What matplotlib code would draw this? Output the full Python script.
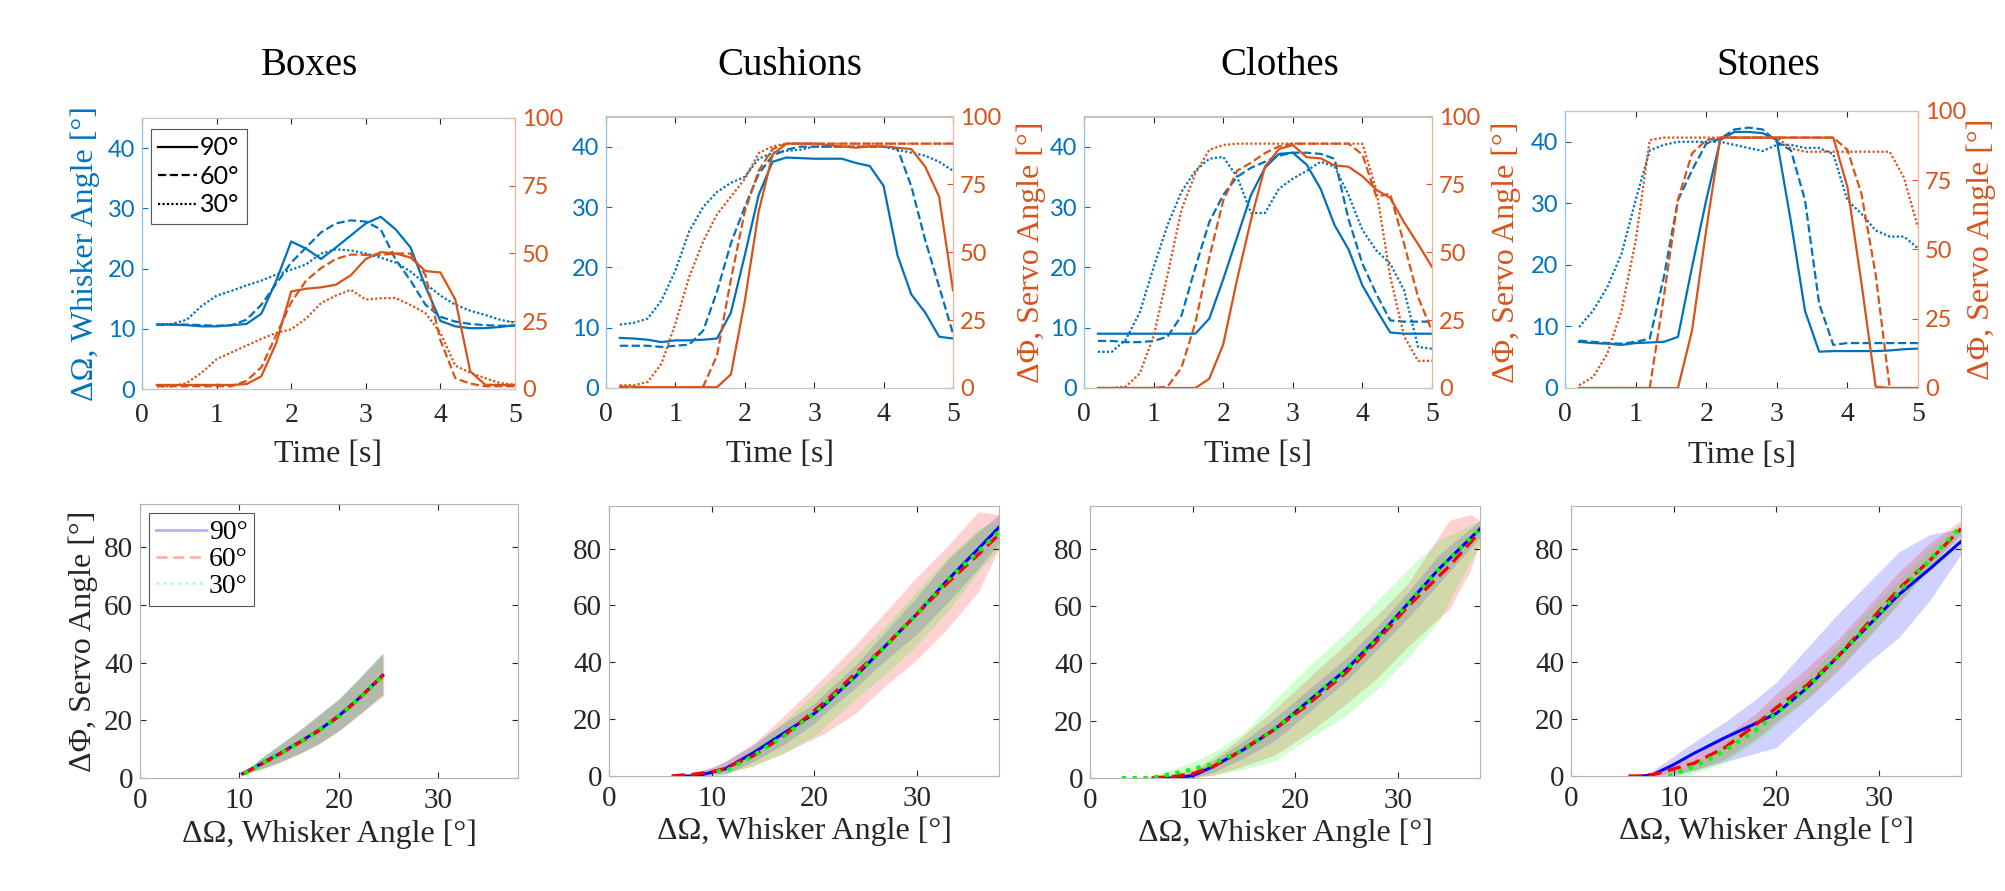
import matplotlib
matplotlib.use('Agg')
import matplotlib.pyplot as plt
from matplotlib.lines import Line2D

plt.rcParams['font.family'] = ['Liberation Serif', 'DejaVu Serif']

# ---- data: whisker / servo angle vs time (top row) ----
time_s = [0.2, 0.4, 0.6, 0.8, 1.0, 1.2, 1.4, 1.6, 1.8, 2.0, 2.2, 2.4, 2.6,
          2.8, 3.0, 3.2, 3.4, 3.6, 3.8, 4.0, 4.2, 4.4, 4.6, 4.8, 5.0]

boxes_w90 = [10.7, 10.7, 10.6, 10.4, 10.4, 10.6, 10.8, 12.5, 18.0, 24.5, 23.3, 21.6, 23.5,
             25.5, 27.5, 28.6, 26.5, 23.5, 17.0, 11.3, 10.4, 10.1, 10.1, 10.3, 10.6]
boxes_w60 = [10.7, 10.7, 10.7, 10.6, 10.5, 10.6, 11.5, 14.0, 17.5, 21.0, 23.5, 26.0, 27.5,
             28.0, 27.8, 26.5, 21.5, 18.0, 14.0, 12.0, 11.2, 10.8, 10.6, 10.5, 10.5]
boxes_w30 = [10.7, 10.8, 11.5, 13.8, 15.5, 16.3, 17.2, 18.0, 19.0, 19.8, 20.7, 22.5, 23.2,
             23.0, 22.5, 21.8, 21.0, 19.5, 17.5, 15.5, 14.0, 13.0, 12.3, 11.5, 11.0]
boxes_s90 = [1.5, 1.5, 1.5, 1.5, 1.5, 1.5, 1.8, 4.7, 17.0, 36.0, 37.0, 37.5, 38.5,
             42.0, 48.0, 50.5, 50.0, 48.5, 43.5, 43.0, 33.0, 6.5, 1.6, 1.5, 1.5]
boxes_s60 = [1.0, 1.0, 1.0, 1.0, 1.0, 1.0, 3.0, 8.0, 20.0, 32.0, 40.0, 44.6, 48.0,
             49.6, 49.5, 49.5, 50.0, 50.0, 42.0, 18.0, 4.0, 2.0, 1.0, 1.0, 1.0]
boxes_s30 = [1.0, 1.0, 2.2, 6.0, 11.0, 13.5, 16.0, 18.5, 20.7, 22.0, 26.0, 31.7, 34.5,
             36.6, 33.0, 33.5, 33.6, 31.0, 28.0, 20.7, 8.6, 6.0, 4.0, 2.2, 1.6]

cush_w90 = [8.3, 8.2, 8.0, 7.6, 7.9, 7.9, 8.0, 8.2, 12.5, 22.0, 32.0, 37.5, 38.2,
            38.1, 38.0, 38.0, 38.0, 37.3, 36.8, 33.5, 22.0, 15.5, 12.5, 8.5, 8.2]
cush_w60 = [7.0, 7.0, 7.0, 6.8, 7.0, 7.2, 9.5, 16.0, 24.0, 30.0, 35.5, 38.5, 39.5,
            40.0, 40.0, 40.0, 40.0, 40.0, 40.0, 40.0, 39.7, 33.4, 24.5, 16.8, 9.0]
cush_w30 = [10.5, 10.8, 11.5, 14.5, 19.5, 26.0, 30.0, 32.5, 34.0, 35.0, 38.0, 39.0, 39.3,
            39.5, 40.0, 40.0, 40.0, 40.0, 40.0, 40.0, 39.5, 39.0, 38.5, 37.5, 36.0]
cush_s90 = [0.5, 0.5, 0.3, 0.3, 0.3, 0.3, 0.3, 0.3, 5.0, 32.0, 65.0, 86.0, 90.0,
            90.0, 90.0, 89.5, 89.0, 88.5, 89.0, 89.0, 88.5, 88.0, 81.5, 70.5, 36.0]
cush_s60 = [0.0, 0.0, 0.0, 0.0, 0.0, 0.0, 0.5, 12.0, 40.0, 65.0, 80.0, 88.0, 90.0,
            90.0, 90.0, 90.0, 90.0, 90.0, 90.0, 90.0, 90.0, 90.0, 90.0, 90.0, 90.0]
cush_s30 = [1.0, 1.0, 2.2, 9.0, 23.7, 41.0, 54.0, 64.0, 70.5, 77.0, 86.5, 89.0, 90.0,
            90.0, 90.0, 90.0, 90.0, 90.0, 90.0, 90.0, 90.0, 90.0, 90.0, 90.0, 90.0]

clo_w90 = [9.0, 9.0, 9.0, 9.0, 9.0, 9.0, 9.0, 9.0, 11.5, 18.0, 25.0, 32.0, 36.5,
           38.8, 39.0, 37.0, 33.0, 27.0, 23.0, 17.0, 13.0, 9.2, 9.0, 9.0, 9.0]
clo_w60 = [7.8, 7.8, 7.6, 7.6, 7.8, 8.5, 12.0, 20.0, 27.5, 32.0, 35.0, 36.5, 37.5,
           38.5, 39.0, 39.0, 38.8, 38.0, 28.0, 20.6, 15.6, 11.2, 11.0, 11.0, 11.0]
clo_w30 = [6.0, 6.0, 8.0, 12.5, 20.0, 27.0, 32.5, 36.0, 38.0, 38.3, 35.0, 29.0, 29.0,
           33.0, 34.7, 36.0, 37.5, 36.7, 32.0, 26.2, 22.8, 20.6, 16.2, 6.8, 6.5]
clo_s90 = [0.0, 0.0, 0.0, 0.0, 0.0, 0.0, 0.0, 0.0, 3.4, 16.0, 40.0, 62.0, 81.5,
           88.0, 89.5, 85.0, 84.6, 82.0, 81.5, 78.0, 73.0, 70.0, 61.0, 53.0, 44.6]
clo_s60 = [0.0, 0.0, 0.0, 0.0, 0.0, 0.5, 7.5, 24.0, 48.0, 69.0, 80.0, 83.0, 86.5,
           89.0, 90.0, 90.0, 90.0, 90.0, 90.0, 86.0, 70.5, 71.5, 53.0, 33.5, 21.0]
clo_s30 = [0.0, 0.0, 0.5, 5.3, 19.0, 41.6, 65.6, 79.0, 87.7, 89.5, 90.0, 90.0, 90.0,
           90.0, 90.0, 90.0, 90.0, 90.0, 90.0, 90.0, 73.0, 41.0, 19.0, 10.0, 10.0]

sto_w90 = [7.5, 7.3, 7.2, 7.0, 7.3, 7.4, 7.5, 8.3, 19.7, 30.5, 40.3, 41.6, 41.6,
           41.4, 40.3, 27.0, 12.5, 5.9, 6.0, 6.0, 6.0, 6.0, 6.1, 6.3, 6.4]
sto_w60 = [7.7, 7.5, 7.3, 7.2, 7.5, 8.0, 18.0, 30.5, 35.4, 39.7, 40.5, 42.0, 42.3,
           42.0, 40.0, 38.6, 30.5, 13.7, 7.0, 7.3, 7.3, 7.3, 7.3, 7.3, 7.3]
sto_w30 = [9.9, 12.6, 16.4, 21.8, 30.5, 38.6, 39.5, 40.0, 40.0, 40.0, 40.0, 39.5, 39.0,
           38.5, 39.5, 39.5, 39.0, 39.0, 38.0, 30.5, 28.3, 25.6, 24.6, 24.6, 22.7]
sto_s90 = [0.0, 0.0, 0.0, 0.0, 0.0, 0.0, 0.0, 0.0, 20.8, 57.0, 90.4, 90.4, 90.4,
           90.4, 90.4, 90.4, 90.4, 90.4, 90.4, 72.6, 37.7, 0.5, 0.0, 0.0, 0.0]
sto_s60 = [0.0, 0.0, 0.0, 0.0, 0.0, 0.0, 33.0, 68.0, 84.7, 89.5, 90.4, 90.4, 90.4,
           90.4, 90.4, 90.4, 90.4, 90.4, 90.4, 86.0, 70.0, 41.0, 0.0, 0.0, 0.0]
sto_s30 = [1.0, 4.0, 12.4, 28.0, 53.0, 89.5, 90.4, 90.4, 90.4, 90.4, 90.4, 90.4, 90.4,
           90.4, 90.4, 86.5, 85.3, 85.3, 85.3, 85.3, 85.3, 85.3, 85.3, 76.0, 58.0]

# ---- data: servo angle vs whisker angle, mean and band (bottom row) ----
boxes_om90 = [10.3, 12, 14, 16, 18, 20, 22, 24.4]
boxes_phi90 = [1.5, 4.6, 8.4, 12.4, 16.6, 21.6, 27.6, 35.6]
boxes_lo90 = [1.5, 3.0, 5.5, 8.5, 12.0, 16.5, 22.0, 29.0]
boxes_hi90 = [1.5, 6.5, 11.5, 16.5, 22.0, 27.5, 34.5, 43.5]
boxes_om60 = [10.3, 12, 14, 16, 18, 20, 22, 24.5]
boxes_phi60 = [1.3, 4.4, 8.2, 12.2, 16.4, 21.4, 27.4, 35.8]
boxes_lo60 = [1.3, 2.8, 5.3, 8.3, 11.8, 16.3, 21.8, 28.5]
boxes_hi60 = [1.3, 6.3, 11.3, 16.3, 21.8, 27.3, 34.3, 43.0]
boxes_om30 = [10.5, 12, 14, 16, 18, 20, 22, 24.4]
boxes_phi30 = [1.5, 4.5, 8.3, 12.3, 16.5, 21.5, 27.5, 35.4]
boxes_lo30 = [1.5, 2.9, 5.4, 8.4, 11.9, 16.4, 21.9, 28.8]
boxes_hi30 = [1.5, 6.4, 11.4, 16.4, 21.9, 27.4, 34.4, 43.2]

cush_om90 = [7.5, 8.5, 10, 11.3, 14, 17, 20, 21, 24, 27, 30, 33, 36, 38]
cush_phi90 = [0, 0, 1.3, 2.5, 8, 15, 22, 25, 35, 46, 57, 69, 80, 87.5]
cush_lo90 = [0, 0, 0, 0.5, 5, 11, 18.5, 22, 31, 41, 50, 61, 73, 82]
cush_hi90 = [0, 1, 3, 5, 11, 18.5, 25.5, 29, 39, 51, 63, 76, 86, 92]
cush_om60 = [6.1, 7, 8, 9, 10, 11, 14, 17, 21, 24, 27, 30, 33, 36, 38]
cush_phi60 = [0, 0.3, 0.5, 1, 1.5, 2.3, 7, 14, 26, 36, 46, 57, 68, 78, 85]
cush_lo60 = [0, 0, 0, 0, 0.5, 1, 3.5, 8, 15, 22, 32, 41, 52, 65, 80]
cush_hi60 = [0, 0.5, 1, 2, 3, 4.5, 11, 21, 35, 46, 58, 70, 81, 93, 92]
cush_om30 = [10.5, 11.5, 14, 17, 20, 24, 27, 30, 33, 36, 38]
cush_phi30 = [1.5, 2, 7, 14, 22, 35, 46, 57, 69, 79, 86]
cush_lo30 = [1.5, 1, 3.5, 8, 14, 27, 36, 46, 58, 72, 80]
cush_hi30 = [1.5, 3, 10, 19, 29, 42, 53, 65, 77, 87, 90]

clo_om90 = [7, 8, 10, 12, 15, 18, 21, 25, 28, 31, 34, 38]
clo_phi90 = [0, 0, 0.8, 4, 10, 17, 26, 38, 49, 61, 73, 87]
clo_lo90 = [0, 0, 0, 2, 7, 13, 22, 34, 45, 56, 68, 84]
clo_hi90 = [0, 0.5, 2, 6, 13, 21, 30, 42, 53, 65, 78, 90]
clo_om60 = [6, 8, 10, 12, 14, 18, 21, 25, 28, 31, 35, 37, 38]
clo_phi60 = [0, 0.5, 1.5, 4, 8, 17, 25, 37, 48, 60, 74, 82, 86]
clo_lo60 = [0, 0, 0, 1, 3, 8, 15, 26, 35, 46, 59, 72, 82]
clo_hi60 = [0, 1, 3, 7, 12, 24, 34, 47, 57, 68, 90, 92, 90]
clo_om30 = [3.1, 6, 8, 10, 12, 15, 18, 21, 25, 28, 31, 34, 38]
clo_phi30 = [0, 0, 1.5, 3, 5, 10, 17, 26, 38, 49, 61, 73, 87]
clo_lo30 = [0, 0, 0, 0.5, 1, 3, 6, 13, 22, 31, 42, 55, 82]
clo_hi30 = [0, 0.5, 3, 5.5, 9, 16, 27, 38, 51, 62, 73, 83, 90]

sto_om90 = [7, 8, 10, 12, 15, 18, 20, 23, 26, 29, 32, 35, 38]
sto_phi90 = [0, 0.5, 4, 8, 13.5, 18.5, 22, 31, 42, 53, 64, 73, 82.5]
sto_lo90 = [0, 0, 0, 2, 5, 8, 10, 20, 30, 40, 49, 62, 78]
sto_hi90 = [0, 2, 7, 12, 19, 27, 33, 45, 57, 68, 79, 85, 87]
sto_om60 = [5.6, 6.5, 8, 9, 10, 12, 15, 18, 20, 23, 26, 29, 32, 35, 38]
sto_phi60 = [0, 0, 0.5, 1.5, 2.5, 4.5, 10, 18, 24, 32, 42, 54, 66, 76, 87]
sto_lo60 = [0, 0, 0, 0.5, 1, 2, 6, 13, 19, 27, 37, 49, 61, 74, 85]
sto_hi60 = [0, 0.5, 1, 2.5, 4, 7, 14, 22, 29, 38, 48, 60, 72, 82, 90]
sto_om30 = [9.5, 11, 13, 15, 18, 20, 23, 26, 29, 32, 35, 38]
sto_phi30 = [0, 2, 5, 9, 16, 22, 31, 42, 53, 65, 76, 88]
sto_lo30 = [0, 0, 2, 5, 12, 18, 27, 38, 49, 61, 73, 86]
sto_hi30 = [0, 3, 7, 12, 20, 26, 35, 46, 58, 69, 80, 89]

materials = ['Boxes', 'Cushions', 'Clothes', 'Stones']
angle_labels = ['90°', '60°', '30°']

BLUE = '#0072BD'
ORANGE = '#D95319'
DARK = '#262626'
SANS = 'Lato'

W, H = 2005, 891


def rect(x0, x1, ytop, ybot):
    return [x0 / W, 1 - ybot / H, (x1 - x0) / W, (ybot - ytop) / H]


fig = plt.figure(figsize=(20.05, 8.91), dpi=100)

top_rects = [rect(142, 515, 118, 389), rect(606, 953, 116.5, 388),
             rect(1084, 1432, 116.5, 388), rect(1565, 1918, 111, 388)]
bot_rects = [rect(140, 518, 504, 778), rect(609, 999, 506, 776),
             rect(1090, 1480, 506, 778), rect(1571, 1961, 506, 776)]
title_x = [309, 790, 1280, 1768]
right_label_x = [None, 1.184, 1.170, 1.138]

whisker = [(boxes_w90, boxes_w60, boxes_w30), (cush_w90, cush_w60, cush_w30),
           (clo_w90, clo_w60, clo_w30), (sto_w90, sto_w60, sto_w30)]
servo = [(boxes_s90, boxes_s60, boxes_s30), (cush_s90, cush_s60, cush_s30),
         (clo_s90, clo_s60, clo_s30), (sto_s90, sto_s60, sto_s30)]
curves = [
    [(boxes_om90, boxes_phi90, boxes_lo90, boxes_hi90),
     (boxes_om60, boxes_phi60, boxes_lo60, boxes_hi60),
     (boxes_om30, boxes_phi30, boxes_lo30, boxes_hi30)],
    [(cush_om90, cush_phi90, cush_lo90, cush_hi90),
     (cush_om60, cush_phi60, cush_lo60, cush_hi60),
     (cush_om30, cush_phi30, cush_lo30, cush_hi30)],
    [(clo_om90, clo_phi90, clo_lo90, clo_hi90),
     (clo_om60, clo_phi60, clo_lo60, clo_hi60),
     (clo_om30, clo_phi30, clo_lo30, clo_hi30)],
    [(sto_om90, sto_phi90, sto_lo90, sto_hi90),
     (sto_om60, sto_phi60, sto_lo60, sto_hi60),
     (sto_om30, sto_phi30, sto_lo30, sto_hi30)],
]

top_styles = ['-', '--', (0, (1, 1))]
bot_colors = [(0, 0, 1), (1, 0, 0), (0, 1, 0)]
bot_styles = [dict(ls='-', lw=2.2), dict(ls=(0, (4, 2)), lw=2.4), dict(ls=(0, (1, 1.6)), lw=3)]

for i, name in enumerate(materials):
    fig.text(title_x[i] / W, 1 - 75 / H, name, fontsize=28, ha='center', va='baseline')

    # top row: time series with two y axes
    ax = fig.add_axes(top_rects[i])
    ax2 = ax.twinx()
    for k in range(3):
        ax.plot(time_s, whisker[i][k], color=BLUE, ls=top_styles[k], lw=1.6)
        ax2.plot(time_s, servo[i][k], color=ORANGE, ls=top_styles[k], lw=1.6)
    ax.set_xlim(0, 5)
    ax.set_ylim(0, 45)
    ax2.set_ylim(0, 100)
    ax.set_xticks([0, 1, 2, 3, 4, 5])
    ax.set_yticks([0, 10, 20, 30, 40])
    ax2.set_yticks([0, 25, 50, 75, 100])
    ax.tick_params(axis='x', direction='in', top=True, length=4, labelsize=20,
                   pad=10, colors=DARK)
    ax.tick_params(axis='y', direction='in', length=4, labelsize=17, pad=5, colors=BLUE)
    ax2.tick_params(axis='y', direction='in', length=4, labelsize=17, pad=5, colors=ORANGE)
    for lbl in ax.get_yticklabels() + ax2.get_yticklabels():
        lbl.set_fontfamily(SANS)
    for a in (ax, ax2):
        a.spines['left'].set_color('#8cc0e4')
        a.spines['right'].set_color('#efb39a')
        a.spines['top'].set_color('#c4c4c4')
        a.spines['bottom'].set_color('#c4c4c4')
    ax.set_xlabel('Time [s]', fontsize=23, color=DARK)
    ax.xaxis.set_label_coords(0.5, -0.19)
    if i == 0:
        ax.set_ylabel('ΔΩ, Whisker Angle [°]', fontsize=23, color=BLUE)
        ax.yaxis.set_label_coords(-0.113, 0.5)
        handles = [Line2D([], [], color='black', ls=s, lw=1.6) for s in top_styles]
        leg = ax2.legend(handles, angle_labels, loc='upper left', bbox_to_anchor=(0.024, 0.96),
                         borderaxespad=0, fancybox=False, edgecolor='#555555', framealpha=1,
                         prop={'family': SANS, 'size': 18}, handlelength=1.55,
                         handletextpad=0.1, labelspacing=0.22, borderpad=0.3)
        leg.get_frame().set_linewidth(0.8)
    else:
        ax2.set_ylabel('ΔΦ, Servo Angle [°]', fontsize=23, color=ORANGE)
        ax2.yaxis.set_label_coords(right_label_x[i], 0.5)

    # bottom row: servo vs whisker angle with spread bands
    bx = fig.add_axes(bot_rects[i])
    for k in range(3):
        om, phi, lo, hi = curves[i][k]
        bx.fill_between(om, lo, hi, color=bot_colors[k], alpha=0.18, lw=0)
    for k in range(3):
        om, phi, lo, hi = curves[i][k]
        bx.plot(om, phi, color=bot_colors[k], **bot_styles[k])
    bx.set_xlim(0, 38)
    bx.set_ylim(0, 95)
    bx.set_xticks([0, 10, 20, 30])
    bx.set_yticks([0, 20, 40, 60, 80])
    bx.tick_params(direction='in', top=True, right=True, length=4, labelsize=21, colors=DARK)
    bx.tick_params(axis='x', pad=7)
    bx.tick_params(axis='y', pad=5)
    for sp in bx.spines.values():
        sp.set_color('#b4b4b4')
    bx.set_xlabel('ΔΩ, Whisker Angle [°]', fontsize=23, color=DARK)
    bx.xaxis.set_label_coords(0.5, -0.15)
    if i == 0:
        bx.set_ylabel('ΔΦ, Servo Angle [°]', fontsize=23, color=DARK)
        bx.yaxis.set_label_coords(-0.111, 0.5)
        handles = [Line2D([], [], color=bot_colors[k], alpha=0.3, lw=2, ls=bot_styles[k]['ls'])
                   for k in range(3)]
        leg = bx.legend(handles, angle_labels, loc='upper left', bbox_to_anchor=(0.024, 0.967),
                        borderaxespad=0, fancybox=False, edgecolor='#555555', framealpha=1,
                        prop={'size': 20}, handlelength=1.8, handletextpad=0.1,
                        labelspacing=0.05, borderpad=0.25)
        leg.get_frame().set_linewidth(0.8)

fig.savefig('out.png', dpi=100)
